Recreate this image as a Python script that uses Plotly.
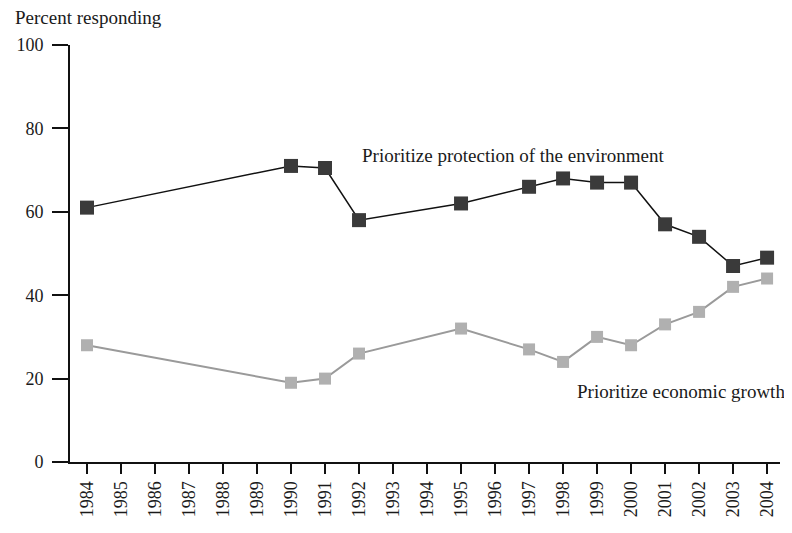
import plotly.graph_objects as go

years = [1984, 1990, 1991, 1992, 1995, 1997, 1998, 1999, 2000, 2001, 2002, 2003, 2004]
environment = [61, 71, 70.5, 58, 62, 66, 68, 67, 67, 57, 54, 47, 49]
economy = [28, 19, 20, 26, 32, 27, 24, 30, 28, 33, 36, 42, 44]
tick_years = list(range(1984, 2005))
y_ticks = [0, 20, 40, 60, 80, 100]

FONT = "Liberation Serif"
TXT = "#1a1a1a"

fig = go.Figure()
fig.add_trace(go.Scatter(
    x=years, y=economy, mode="lines+markers",
    line=dict(color="#9a9a9a", width=2),
    marker=dict(symbol="square", size=12, color="#b0b0b0", line=dict(width=0)),
    showlegend=False,
))
fig.add_trace(go.Scatter(
    x=years, y=environment, mode="lines+markers",
    line=dict(color="#111111", width=1.5),
    marker=dict(symbol="square", size=14, color="#3a3a3a", line=dict(width=0)),
    showlegend=False,
))

fig.add_annotation(x=-0.080, y=1.065, xref="paper", yref="paper",
                   text="Percent responding", showarrow=False,
                   xanchor="left", yanchor="middle",
                   font=dict(family=FONT, size=19, color=TXT))
fig.add_annotation(x=1992.03, y=73.6, xref="x", yref="y",
                   text="Prioritize protection of the environment", showarrow=False,
                   xanchor="left", yanchor="middle",
                   font=dict(family=FONT, size=19, color=TXT))
fig.add_annotation(x=1998.35, y=16.8, xref="x", yref="y",
                   text="Prioritize economic growth", showarrow=False,
                   xanchor="left", yanchor="middle",
                   font=dict(family=FONT, size=19, color=TXT))

fig.update_layout(
    width=784, height=525,
    margin=dict(l=62, r=12, t=37, b=71),
    paper_bgcolor="white", plot_bgcolor="white",
    font=dict(family=FONT, size=18, color=TXT),
)
fig.update_xaxes(
    range=[1983.5, 2004.38], tickvals=tick_years,
    ticktext=[str(y) for y in tick_years], tickangle=-90,
    showline=True, linecolor="#111", linewidth=2,
    ticks="outside", ticklen=10, tickwidth=2, tickcolor="#111",
    showgrid=False, zeroline=False, automargin=False,
    tickfont=dict(family=FONT, size=18, color=TXT),
)
fig.update_yaxes(
    range=[0, 100], tickvals=y_ticks,
    showline=True, linecolor="#111", linewidth=2,
    ticks="outside", ticklen=16, tickwidth=2, tickcolor="#111",
    showgrid=False, zeroline=False, automargin=False,
    ticklabelstandoff=5,
    tickfont=dict(family=FONT, size=18, color=TXT),
)

fig.write_html("out.html")
